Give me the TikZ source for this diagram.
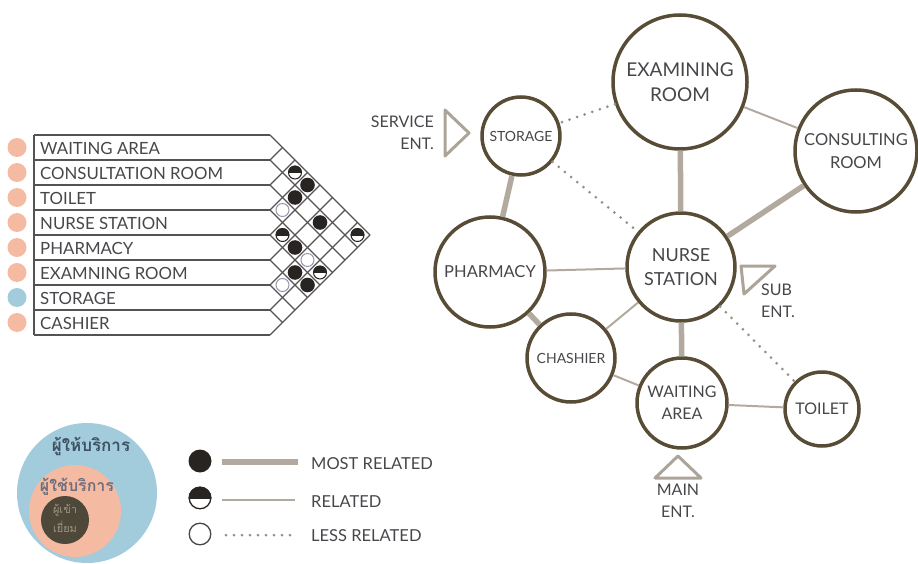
\documentclass[tikz,border=0pt]{standalone}
\usepackage{fontspec}
\setmainfont{Lato}
\newfontfamily\thaifont[Script=Thai]{Loma}
\usepackage{tikz}
\usetikzlibrary{positioning, calc}
\definecolor{myring}{RGB}{88,76,54}
\definecolor{mylink}{RGB}{178,170,158}
\definecolor{mydotted}{RGB}{150,143,132}
\definecolor{mytext}{RGB}{72,70,74}
\definecolor{mysalmon}{RGB}{245,186,162}
\definecolor{myblue}{RGB}{162,203,220}
\definecolor{mydot}{RGB}{40,36,34}
\definecolor{mygrid}{RGB}{84,82,82}
\definecolor{myopen}{RGB}{150,152,172}
\definecolor{myentry}{RGB}{172,164,152}
\definecolor{myvisit}{RGB}{78,72,58}
\definecolor{myprov}{RGB}{62,82,100}
\definecolor{myuser}{RGB}{112,110,124}
\definecolor{myvtext}{RGB}{160,150,128}
\tikzset{
  room/.style={circle, draw=myring, fill=white, line width=3.5pt,
    align=center, inner sep=0pt, text=mytext},
  most/.style={line width=5.5pt, color=mylink},
  rel/.style={line width=2pt, color=mylink},
  less/.style={line width=3pt, color=mydotted, line cap=round, dash pattern=on 0pt off 8pt},
  entry/.style={line width=3pt, color=myentry, line join=round},
  entlabel/.style={font=\fontsize{16}{22}\selectfont, text=mytext, inner sep=0pt},
  rowlabel/.style={anchor=west, font=\fontsize{16.8}{18}\selectfont, text=mytext, inner sep=0pt},
  keylabel/.style={anchor=west, font=\fontsize{16.5}{18}\selectfont, text=mytext, inner sep=0pt},
  gridline/.style={draw=mygrid, line width=1.1pt}
}

\begin{document}
\begin{tikzpicture}[x=1pt, y=-1pt]
  \useasboundingbox (0,0) rectangle (918,564);

  % Relation matrix: rows
  \foreach \name/\dotcol [count=\i] in {WAITING AREA/mysalmon, CONSULTATION ROOM/mysalmon,
      TOILET/mysalmon, NURSE STATION/mysalmon, PHARMACY/mysalmon,
      EXAMNING ROOM/mysalmon, STORAGE/myblue, CASHIER/mysalmon} {
    \fill[\dotcol] (17,{147.5+25*(\i-1)}) circle[radius=9.5pt];
    \node[rowlabel] (row\i) at (40,{148+25*(\i-1)}) {\name};
  }
  \draw[gridline] (34,135) -- (34,335);
  \foreach \k in {0,...,8} {
    \draw[gridline] (34,{135+25*\k}) -- (270,{135+25*\k});
    \draw[gridline] (270,{135+25*\k}) -- ({270+12.5*\k},{135+12.5*\k});
    \draw[gridline] (270,{135+25*\k}) -- ({370-12.5*\k},{235+12.5*\k});
  }

  % Matrix marks
  \foreach \i/\j in {1/4, 2/4, 2/6, 4/6, 5/7, 5/8}
    \fill[mydot] ({270+12.5*(\j-\i)},{147.5+12.5*(\i+\j-2)}) circle[radius=7.3pt];
  \foreach \i/\j in {1/3, 4/5, 1/8, 4/8} {
    \coordinate (hc) at ({270+12.5*(\j-\i)},{147.5+12.5*(\i+\j-2)});
    \fill[white] (hc) circle[radius=6.8pt];
    \begin{scope}
      \clip ($(hc)+(-9,-9)$) rectangle ($(hc)+(9,0)$);
      \fill[mydot] (hc) circle[radius=6.8pt];
    \end{scope}
    \draw[mydot, line width=1pt] (hc) circle[radius=6.5pt];
    \draw[mydot, line width=1pt] ($(hc)+(-6.5,0)$) -- ($(hc)+(6.5,0)$);
  }
  \foreach \i/\j in {3/4, 4/7, 6/7}
    \draw[myopen, fill=white, line width=1pt] ({270+12.5*(\j-\i)},{147.5+12.5*(\i+\j-2)}) circle[radius=6.5pt];

  % Rooms
  \node[room, minimum size=134pt, font=\fontsize{19}{25}\selectfont] (exam) at (680,82) {EXAMINING\\ROOM};
  \node[room, minimum size=122pt, font=\fontsize{16.5}{23}\selectfont] (consult) at (856,151) {CONSULTING\\ROOM};
  \node[room, minimum size=78pt, font=\fontsize{14}{16}\selectfont] (storage) at (521,136) {STORAGE};
  \node[room, minimum size=108pt, font=\fontsize{18}{24}\selectfont] (nurse) at (681,267) {NURSE\\STATION};
  \node[room, minimum size=110pt, font=\fontsize{16.5}{18}\selectfont] (pharmacy) at (490,272) {PHARMACY};
  \node[room, minimum size=88pt, font=\fontsize{14}{16}\selectfont] (cashier) at (571,358) {CHASHIER};
  \node[room, minimum size=90pt, font=\fontsize{16}{22}\selectfont] (waiting) at (682,403) {WAITING\\AREA};
  \node[room, minimum size=74pt, font=\fontsize{16}{18}\selectfont] (toilet) at (822,409) {TOILET};

  % Relations
  \draw[less] (exam) -- (storage);
  \draw[rel] (exam) -- (consult);
  \draw[most] (exam) -- (nurse);
  \draw[most] (consult) -- (nurse);
  \draw[less] (storage) -- (nurse);
  \draw[most] (storage) -- (pharmacy);
  \draw[rel] (pharmacy) -- (nurse);
  \draw[most] (pharmacy) -- (cashier);
  \draw[rel] (cashier) -- (nurse);
  \draw[rel] (cashier) -- (waiting);
  \draw[most] (nurse) -- (waiting);
  \draw[less] (nurse) -- (toilet);
  \draw[rel] (waiting) -- (toilet);

  % Entrances
  \draw[entry] (445,110) -- (445,156) -- (469,133) -- cycle;
  \node[entlabel, align=right, anchor=east] (servent) at (434,133) {SERVICE\\ENT.};
  \draw[entry] (741,266) -- (775,266) -- (744,294) -- cycle;
  \node[entlabel, align=left, anchor=west] (subent) at (761,301) {SUB\\ENT.};
  \draw[entry] (655,478) -- (701,478) -- (678,456) -- cycle;
  \node[entlabel, align=center, anchor=north] (mainent) at (678,484) {MAIN\\ENT.};

  % Users
  \fill[myblue] (87,493) circle[radius=70pt];
  \fill[mysalmon] (75,511) circle[radius=46pt];
  \fill[myvisit] (65,520) circle[radius=24pt];
  \node[font=\thaifont\bfseries\fontsize{17}{20}\selectfont, text=myprov, inner sep=0pt] (provider) at (91,446) {ผู้ให้บริการ};
  \node[font=\thaifont\bfseries\fontsize{16}{20}\selectfont, text=myuser, inner sep=0pt] (user) at (77,487) {ผู้ใช้บริการ};
  \node[font=\thaifont\fontsize{11}{19}\selectfont, text=myvtext, align=center, inner sep=0pt] (visitor) at (65,518) {ผู้เข้า\\เยี่ยม};

  % Key
  \fill[mydot] (200,461) circle[radius=11.5pt];
  \fill[white] (200,498) circle[radius=11pt];
  \begin{scope}
    \clip (186,484) rectangle (214,498);
    \fill[mydot] (200,498) circle[radius=11.5pt];
  \end{scope}
  \draw[mydot, line width=1.3pt] (200,498) circle[radius=10.8pt];
  \draw[mydot, line width=1.3pt] (189,498) -- (211,498);
  \draw[mydot!85, line width=1.3pt] (200,534) circle[radius=10.8pt];
  \draw[most] (222,462) -- (298,462);
  \draw[rel] (222,500) -- (295,500);
  \draw[less] (226,535) -- (295,535);
  \node[keylabel] (kmost) at (311,464) {MOST RELATED};
  \node[keylabel] (krel) at (311,502) {RELATED};
  \node[keylabel] (kless) at (311,536) {LESS RELATED};
\end{tikzpicture}
\end{document}
